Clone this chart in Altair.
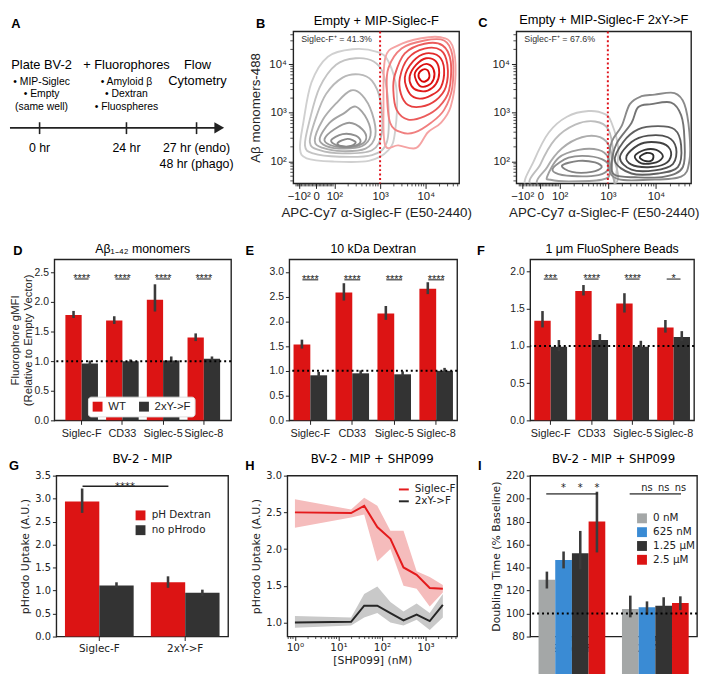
import math
import altair as alt
import pandas as pd

SANS = "Liberation Sans"
DJV = "DejaVu Sans"
RED = "#dc1414"
DARK = "#333333"
ERRC = "#3b3b3b"
INK = "#222222"
BLUE = "#3a8bd4"
LGRAY = "#a4a7a7"

# ---------------- Panel A (schematic timeline) ----------------
a_head = ["Plate BV-2", "+ Fluorophores", "Flow", "Cytometry"]
a_head_pos = [32, 118, 190, 190]
a_head_row = [34, 34, 34, 50]
a_items = ["• MIP-Siglec", "• Empty", "(same well)", "• Amyloid β", "• Dextran", "• Fluospheres"]
a_items_pos = [32, 32, 32, 118, 118, 118]
a_items_row = [51, 63, 77, 51, 63, 77]
a_times = ["0 hr", "24 hr", "27 hr (endo)", "48 hr (phago)"]
a_times_pos = [30, 118, 189, 189]
a_times_row = [118, 118, 118, 134]
a_tick_pos = [30, 118, 189]

# ---------------- Panels B / C (flow contours, display units) ----------------
b_gray = [
    [(1.247, 2.265), (1.319, 2.795), (1.498, 3.623), (1.857, 4.152), (2.394, 4.305), (2.932, 4.252), (3.183, 4.053), (3.362, 3.457), (3.326, 2.596), (3.183, 2.232), (2.753, 2.013), (1.964, 2.0), (1.391, 2.066)],
    [(1.355, 2.331), (1.462, 2.861), (1.677, 3.523), (2.036, 3.987), (2.466, 4.119), (2.860, 4.053), (3.075, 3.788), (3.183, 3.126), (3.147, 2.397), (2.824, 2.132), (2.108, 2.099), (1.534, 2.166)],
    [(1.462, 2.397), (1.606, 2.927), (1.821, 3.391), (2.179, 3.722), (2.538, 3.788), (2.824, 3.656), (3.004, 3.258), (3.039, 2.596), (2.824, 2.232), (2.179, 2.166), (1.677, 2.232)],
    [(1.570, 2.430), (1.749, 2.861), (2.036, 3.192), (2.358, 3.457), (2.609, 3.358), (2.824, 2.993), (2.896, 2.530), (2.681, 2.265), (2.179, 2.212), (1.749, 2.278)],
    [(1.677, 2.464), (1.892, 2.795), (2.215, 2.993), (2.466, 3.126), (2.717, 2.861), (2.789, 2.530), (2.609, 2.318), (2.215, 2.265), (1.821, 2.318)],
    [(1.785, 2.464), (2.0, 2.662), (2.323, 2.795), (2.609, 2.662), (2.695, 2.464), (2.538, 2.331), (2.215, 2.291), (1.892, 2.344)],
    [(1.928, 2.430), (2.179, 2.563), (2.466, 2.530), (2.573, 2.411), (2.430, 2.318), (2.108, 2.318)],
    [(2.072, 2.384), (2.287, 2.464), (2.466, 2.397), (2.358, 2.318), (2.143, 2.318)],
]
b_red = [
    [(3.111, 4.119), (3.398, 4.384), (3.900, 4.530), (4.330, 4.550), (4.581, 4.384), (4.652, 3.788), (4.545, 3.126), (4.330, 2.795), (4.043, 2.596), (3.792, 2.278), (3.398, 2.331), (3.111, 2.331), (3.075, 3.126)],
    [(3.183, 3.921), (3.470, 4.318), (3.971, 4.483), (4.401, 4.483), (4.581, 4.185), (4.581, 3.523), (4.401, 3.060), (4.115, 2.795), (3.756, 2.596), (3.470, 2.596), (3.219, 2.795), (3.147, 3.457)],
    [(3.326, 3.788), (3.541, 4.219), (3.971, 4.417), (4.366, 4.384), (4.545, 4.053), (4.509, 3.457), (4.294, 3.126), (3.971, 2.927), (3.613, 2.861), (3.362, 3.060), (3.290, 3.457)],
    [(3.434, 3.722), (3.613, 4.119), (3.971, 4.318), (4.330, 4.285), (4.473, 3.987), (4.437, 3.523), (4.222, 3.258), (3.900, 3.126), (3.613, 3.159), (3.455, 3.391)],
    [(3.541, 3.722), (3.720, 4.053), (4.007, 4.219), (4.294, 4.152), (4.401, 3.887), (4.330, 3.523), (4.115, 3.358), (3.864, 3.291), (3.649, 3.391)],
    [(3.649, 3.755), (3.792, 3.987), (4.007, 4.119), (4.222, 4.053), (4.294, 3.821), (4.222, 3.589), (4.043, 3.457), (3.828, 3.457), (3.685, 3.556)],
    [(3.756, 3.788), (3.885, 3.954), (4.043, 4.0), (4.172, 3.887), (4.172, 3.689), (4.043, 3.556), (3.864, 3.556)],
    [(3.842, 3.788), (3.935, 3.887), (4.043, 3.868), (4.079, 3.735), (3.986, 3.642), (3.885, 3.669)],
]
c_gray = [
    [(1.292, 1.495), (1.464, 2.013), (1.773, 2.595), (2.151, 2.919), (2.598, 3.036), (2.942, 2.971), (3.079, 2.790), (3.216, 2.272), (3.148, 1.625), (3.010, 1.430), (1.979, 1.430)],
    [(1.464, 1.495), (1.601, 1.948), (1.911, 2.466), (2.323, 2.757), (2.735, 2.822), (3.010, 2.660), (3.113, 2.142), (3.079, 1.495)],
    [(1.601, 1.495), (1.739, 1.883), (2.048, 2.272), (2.460, 2.498), (2.838, 2.498), (3.045, 2.272), (3.079, 1.819), (3.010, 1.430)],
    [(1.739, 1.689), (1.979, 2.078), (2.392, 2.239), (2.804, 2.239), (3.010, 2.078), (3.045, 1.754), (2.873, 1.625), (2.186, 1.592), (1.808, 1.625)],
    [(1.876, 1.883), (2.186, 2.078), (2.598, 2.110), (2.942, 2.013), (3.010, 1.851), (2.804, 1.722), (2.254, 1.702), (1.911, 1.767)],
    [(2.048, 1.916), (2.392, 2.013), (2.735, 1.981), (2.873, 1.883), (2.667, 1.786), (2.254, 1.786)],
]
c_dark = [
    [(3.010, 1.883), (3.079, 2.401), (3.285, 2.725), (3.457, 3.178), (3.698, 3.340), (3.973, 3.372), (4.385, 3.405), (4.591, 3.178), (4.694, 2.595), (4.694, 2.013), (4.522, 1.689), (3.835, 1.625), (3.216, 1.638)],
    [(3.079, 1.948), (3.182, 2.369), (3.491, 2.790), (3.629, 3.113), (3.904, 3.178), (4.316, 3.210), (4.522, 2.951), (4.591, 2.466), (4.557, 1.883), (4.179, 1.689), (3.560, 1.676), (3.148, 1.722)],
    [(3.148, 2.013), (3.320, 2.401), (3.629, 2.660), (4.041, 2.725), (4.385, 2.660), (4.522, 2.337), (4.454, 1.883), (4.041, 1.754), (3.491, 1.754)],
    [(3.251, 2.078), (3.491, 2.401), (3.835, 2.531), (4.247, 2.498), (4.419, 2.272), (4.351, 1.948), (3.973, 1.819), (3.491, 1.832)],
    [(3.388, 2.110), (3.629, 2.337), (3.904, 2.401), (4.213, 2.337), (4.316, 2.142), (4.179, 1.948), (3.835, 1.883), (3.491, 1.935)],
    [(3.560, 2.110), (3.766, 2.239), (4.007, 2.239), (4.144, 2.110), (4.007, 1.981), (3.698, 1.961)],
    [(3.663, 2.091), (3.801, 2.175), (3.938, 2.142), (3.918, 2.026), (3.766, 2.013)],
]
b_gray_cols = ["#d0d0d0", "#c4c4c4", "#b9b9b9", "#aeaeae", "#a3a3a3", "#999999", "#8f8f8f", "#888888"]
b_red_cols = ["#f5a3a3", "#f07f7f", "#eb5c5c", "#e74040", "#e32a2a", "#e01b1b", "#dc1010", "#d60808"]
c_gray_cols = ["#cccccc", "#bdbdbd", "#adadad", "#9e9e9e", "#8f8f8f", "#828282"]
c_dark_cols = ["#8a8a8a", "#747474", "#606060", "#4f4f4f", "#424242", "#363636", "#2c2c2c"]

# ---------------- Panels D / E / F ----------------
siglecs = ["Siglec-F", "CD33", "Siglec-5", "Siglec-8"]
variants = ["WT", "2xY->F"]

d_wt = [1.78, 1.69, 2.04, 1.40]
d_wt_lo = [1.73, 1.63, 1.84, 1.34]
d_wt_hi = [1.85, 1.76, 2.30, 1.47]
d_mut = [0.96, 1.00, 1.01, 1.04]
d_mut_lo = [0.93, 0.98, 0.95, 0.99]
d_mut_hi = [1.01, 1.03, 1.08, 1.08]
d_sig = ["****", "****", "****", "****"]

e_wt = [1.53, 2.58, 2.16, 2.66]
e_wt_lo = [1.45, 2.42, 2.03, 2.55]
e_wt_hi = [1.63, 2.77, 2.31, 2.79]
e_mut = [0.91, 0.95, 0.93, 1.00]
e_mut_lo = [0.87, 0.91, 0.89, 0.96]
e_mut_hi = [0.98, 1.01, 0.99, 1.06]
e_sig = ["****", "****", "****", "****"]

f_wt = [1.34, 1.74, 1.57, 1.25]
f_wt_lo = [1.25, 1.68, 1.45, 1.18]
f_wt_hi = [1.47, 1.82, 1.71, 1.35]
f_mut = [0.99, 1.08, 0.99, 1.12]
f_mut_lo = [0.93, 1.02, 0.95, 1.07]
f_mut_hi = [1.08, 1.16, 1.07, 1.20]
f_sig = ["***", "****", "****", "*"]

# ---------------- Panel G ----------------
g_cats = ["Siglec-F", "2xY->F"]
g_hues = ["pH Dextran", "no pHrodo"]
g_ph = [2.94, 1.18]
g_ph_lo = [2.69, 1.06]
g_ph_hi = [3.22, 1.31]
g_no = [1.11, 0.95]
g_no_lo = [1.06, 0.88]
g_no_hi = [1.18, 1.02]
g_sig_level = 3.27

# ---------------- Panel H ----------------
h_conc = [1, 19.5, 39, 78, 156, 312, 625, 1250, 2500]
h_sf = [2.50, 2.49, 2.59, 2.30, 2.14, 1.75, 1.65, 1.47, 1.46]
h_sf_lo = [2.29, 2.43, 2.47, 1.83, 2.00, 1.50, 1.46, 1.22, 1.41]
h_sf_hi = [2.68, 2.54, 2.70, 2.59, 2.25, 2.25, 1.70, 1.62, 1.51]
h_mut = [1.00, 1.01, 1.23, 1.23, 1.13, 1.03, 1.11, 1.02, 1.24]
h_mut_lo = [0.93, 0.96, 1.07, 1.13, 1.00, 0.96, 1.04, 0.90, 1.07]
h_mut_hi = [1.09, 1.07, 1.39, 1.49, 1.28, 1.15, 1.26, 1.13, 1.39]
h_groups = ["Siglec-F", "2xY->F"]

# ---------------- Panel I ----------------
i_doses = ["0 nM", "625 nM", "1.25 μM", "2.5 μM"]
i_sf = [129.5, 146.5, 152.4, 180.2]
i_sf_lo = [121.8, 139.3, 138.5, 153.2]
i_sf_hi = [136.5, 154.0, 171.9, 206.0]
i_mut = [103.9, 105.5, 106.9, 109.2]
i_mut_lo = [96.7, 99.0, 100.3, 103.0]
i_mut_hi = [115.6, 110.6, 114.2, 115.0]
i_sig_level = 204.1
i_marks_sf = ["", "*", "*", "*"]
i_marks_mut = ["", "ns", "ns", "ns"]


# ======================= helpers =======================
def frame():
    return alt.ViewBackground(stroke=INK, strokeWidth=1.4)


def spacer(w, h, ltr=None, ldx=0, ldy=0, room=None):
    """Invisible gap view; optionally carries the panel letter of the panel to its right."""
    layers = [alt.Chart(pd.DataFrame({"z": [0]})).mark_point(opacity=0, size=1).encode(
        x=alt.value(w), y=alt.value(h / 2))]
    if ltr is not None:
        layers.append(alt.Chart(pd.DataFrame({"s": [ltr]})).mark_text(
            font=SANS, fontSize=13, fontWeight="bold", align="center", baseline="middle", color="black"
        ).encode(text="s:N", x=alt.value(w + ldx), y=alt.value(ldy)))
    if room is not None:
        layers.append(alt.Chart(pd.DataFrame({"z": [0]})).mark_point(opacity=0, size=1).encode(
            x=alt.value(w), y=alt.value(-room)))
    return alt.layer(*layers).properties(width=w, height=h)


def ptitle(text, font, size, offset):
    return alt.TitleParams(text=text, font=font, fontSize=size, fontWeight="normal", offset=offset,
                           anchor="middle", color="black", frame="group")


def grouped_df(cats, hues, vals, los, his):
    rows = []
    for h, v, lo, hi in zip(hues, vals, los, his):
        for c, a, b, d in zip(cats, v, lo, hi):
            rows.append({"cat": c, "hue": h, "val": a, "lo": b, "hi": d})
    return pd.DataFrame(rows)


RESOLVE = dict(x="independent", y="independent", color="independent", xOffset="independent",
               fill="independent", stroke="independent")


def row(parts, gaps, h, letters, room=None):
    items = []
    for k, (g, p, (ch, dx, dy)) in enumerate(zip(gaps, parts, letters)):
        items += [spacer(g, h, ch, dx, dy, room if k == 0 else None), p]
    return alt.HConcatChart(hconcat=items, spacing=0, bounds="flush").resolve_scale(**RESOLVE)


# ======================= Panel A =======================
A_W, ROW1_H, ROW_H = 220, 154, 163
ax_id = alt.Scale(domain=[0, A_W], range=[0, A_W])
ay_id = alt.Scale(domain=[0, ROW1_H], range=[0, ROW1_H])
AX = lambda f: alt.X(f, scale=ax_id, axis=None)
AY = lambda f: alt.Y(f, scale=ay_id, axis=None)

a_head_df = pd.DataFrame({"t": a_head, "px": a_head_pos, "py": a_head_row})
a_items_df = pd.DataFrame({"t": a_items, "px": a_items_pos, "py": a_items_row})
a_times_df = pd.DataFrame({"t": a_times, "px": a_times_pos, "py": a_times_row})
a_ticks_df = pd.DataFrame({"px": a_tick_pos, "y0": [92] * 3, "y1": [104] * 3})
a_line_df = pd.DataFrame({"px": [0], "px2": [208], "py": [97.7]})
a_arrow_df = pd.DataFrame({"px": [212], "py": [97.7]})

panel_a = alt.layer(
    alt.Chart(a_line_df).mark_rule(color=INK, strokeWidth=2).encode(x=AX("px:Q"), x2="px2:Q", y=AY("py:Q")),
    alt.Chart(a_ticks_df).mark_rule(color=INK, strokeWidth=1.6).encode(x=AX("px:Q"), y=AY("y0:Q"), y2="y1:Q"),
    alt.Chart(a_arrow_df).mark_point(shape="triangle-right", filled=True, size=130, color=INK, opacity=1).encode(
        x=AX("px:Q"), y=AY("py:Q")),
    alt.Chart(a_head_df).mark_text(font=SANS, fontSize=13, align="center", baseline="middle", color="black").encode(
        x=AX("px:Q"), y=AY("py:Q"), text="t:N"),
    alt.Chart(a_items_df).mark_text(font=SANS, fontSize=10.5, align="center", baseline="middle", color="black").encode(
        x=AX("px:Q"), y=AY("py:Q"), text="t:N"),
    alt.Chart(a_times_df).mark_text(font=SANS, fontSize=12.5, align="center", baseline="middle", color="black").encode(
        x=AX("px:Q"), y=AY("py:Q"), text="t:N"),
).properties(width=A_W, height=ROW1_H)


# ======================= Panels B / C =======================
x_minor_t = [math.log10(k * 10 ** d) for d in (2, 3) for k in range(2, 10)] + \
            [math.log10(k * 1e4) for k in range(2, 6)] + [1.16 + 0.03 * i for i in range(28)]
y_minor_t = [math.log10(k * 10 ** d) for d in (1, 2, 3, 4) for k in range(2, 10)]
y_minor_t = [v for v in y_minor_t if 1.56 <= v <= 4.66]


def flow_panel(groups, cols, title, pct, w, ytitle, toff):
    rows = []
    keys = []
    for gi, (name, rings) in enumerate(groups):
        for ri, pts in enumerate(rings):
            key = f"{name}{ri}"
            keys.append(key)
            for i, (t, ly) in enumerate(pts):
                rows.append({"ring": key, "i": i, "t": t, "ly": ly})
    df = pd.DataFrame(rows)
    xs = alt.Scale(domain=[1.1, 4.73], nice=False, zero=False)
    ys = alt.Scale(domain=[1.55, 4.67], nice=False, zero=False)
    xaxis = alt.Axis(values=[1.22, 1.6, 2, 3, 4],
                     labelExpr="datum.value < 1.45 ? '\u221210\u00b2' : datum.value < 1.8 ? '0' : datum.value < 2.5 ? '10\u00b2' : datum.value < 3.5 ? '10\u00b3' : '10\u2074'",
                     title="APC-Cy7 \u03b1-Siglec-F (E50-2440)", labelFont=SANS, labelFontSize=11.5,
                     titleFont=SANS, titleFontSize=13.5, tickSize=5, labelPadding=2, titlePadding=4,
                     labelFlush=False, labelOverlap=False, grid=False, domain=False,
                     tickColor=INK, labelColor=INK, titleColor=INK, titleFontWeight="normal")
    yaxis = alt.Axis(values=[2, 3, 4],
                     labelExpr="datum.value < 2.5 ? '10\u00b2' : datum.value < 3.5 ? '10\u00b3' : '10\u2074'",
                     title=ytitle, labelFont=SANS, labelFontSize=11.5, titleFont=SANS, titleFontSize=13.5,
                     tickSize=5, labelPadding=2, titlePadding=6, grid=False, domain=False,
                     tickColor=INK, labelColor=INK, titleColor=INK, titleFontWeight="normal")
    X = alt.X("t:Q", scale=xs, axis=xaxis)
    Y = alt.Y("ly:Q", scale=ys, axis=yaxis)
    contours = alt.Chart(df).mark_line(interpolate="cardinal-closed", strokeWidth=1.9, clip=True).encode(
        x=X, y=Y, color=alt.Color("ring:N", scale=alt.Scale(domain=keys, range=cols), legend=None),
        order="i:Q")
    xm = alt.Chart(pd.DataFrame({"t": x_minor_t})).mark_rule(color=INK, strokeWidth=0.8).encode(
        x=X, y=alt.value(ROW1_H), y2=alt.value(ROW1_H + 3))
    ym = alt.Chart(pd.DataFrame({"ly": y_minor_t})).mark_rule(color=INK, strokeWidth=0.8).encode(
        y=Y, x=alt.value(0), x2=alt.value(-3))
    gate = alt.Chart(pd.DataFrame({"t": [3.0]})).mark_rule(color="#e0141c", strokeDash=[2, 2.5], strokeWidth=2).encode(x=X)
    lab = alt.Chart(pd.DataFrame({"s": [pct]})).mark_text(font=SANS, fontSize=9, align="left", baseline="middle",
                                                          color="#333").encode(
        text="s:N", x=alt.value(8), y=alt.value(8))
    return alt.layer(contours, xm, ym, gate, lab).properties(
        width=w, height=ROW1_H, title=ptitle(title, SANS, 13, toff), view=frame())


panel_b = flow_panel([("g", b_gray), ("r", b_red)], b_gray_cols + b_red_cols, "Empty + MIP-Siglec-F",
                     "Siglec-F\u207a  = 41.3%", 168, "A\u03b2 monomers-488", 3)
panel_c = flow_panel([("g", c_gray), ("d", c_dark)], c_gray_cols + c_dark_cols, "Empty + MIP-Siglec-F 2xY->F",
                     "Siglec-F\u207a  = 67.6%", 177, None, 4)


# ======================= bar panels =======================
def bar_panel(df, cats, hues, colors, ymax, yvals, yfmt, ytitle, w, h, font, lab_fs, x_fs, title, title_fs,
              toff, po, legend, ref_level, sig_df, sig_tick_size, sig_font_fs, extra=None,
              title_pad=4, title_fs_y=None):
    xsc = alt.Scale(domain=cats, paddingInner=0.2, paddingOuter=po)
    xax = alt.Axis(title=None, labelAngle=0, labelFont=font, labelFontSize=x_fs, tickSize=4, labelPadding=3,
                   grid=False, domain=False, tickColor=INK, labelColor=INK)
    X = alt.X("cat:N", scale=xsc, axis=xax, sort=cats)
    XO = alt.XOffset("hue:N", scale=alt.Scale(domain=hues, paddingInner=0, paddingOuter=0))
    ysc = alt.Scale(domain=[yvals[0], ymax], nice=False, zero=False)
    yax = alt.Axis(values=yvals, format=yfmt, title=ytitle, labelFont=font, labelFontSize=lab_fs,
                   titleFont=font, titleFontSize=title_fs_y or (lab_fs + 1), titleFontWeight="normal",
                   tickSize=4, labelPadding=2, titlePadding=title_pad, grid=False, domain=False,
                   tickColor=INK, labelColor=INK, titleColor=INK, titleLineHeight=13)
    Y = lambda f: alt.Y(f, scale=ysc, axis=yax)
    bars = alt.Chart(df).mark_bar().encode(
        x=X, xOffset=XO, y=Y("val:Q"),
        color=alt.Color("hue:N", scale=alt.Scale(domain=hues, range=colors), legend=legend))
    err = alt.Chart(df).mark_rule(strokeWidth=2.6, color=ERRC).encode(x=X, xOffset=XO, y=Y("lo:Q"), y2="hi:Q")
    layers = [bars, err]
    if ref_level is not None:
        layers.append(alt.Chart(pd.DataFrame({"val": [ref_level]})).mark_rule(
            color="black", strokeDash=[2, 3], strokeWidth=2).encode(y=Y("val:Q")))
    if sig_df is not None:
        layers.append(alt.Chart(sig_df).mark_tick(orient="horizontal", size=sig_tick_size, thickness=1.5,
                                                  color=INK).encode(x=X, y=Y("val:Q")))
        layers.append(alt.Chart(sig_df).mark_text(font=font, fontSize=sig_font_fs, baseline="alphabetic", dy=3,
                                                  color=INK).encode(x=X, y=Y("val:Q"), text="s:N"))
    if extra is not None:
        layers.extend(extra(X, XO, Y))
    return alt.layer(*layers).properties(width=w, height=h, title=ptitle(title, font, title_fs, toff), view=frame())


ticks_25 = [0.0, 0.5, 1.0, 1.5, 2.0, 2.5]

d_df = grouped_df(siglecs, variants, [d_wt, d_mut], [d_wt_lo, d_mut_lo], [d_wt_hi, d_mut_hi])
e_df = grouped_df(siglecs, variants, [e_wt, e_mut], [e_wt_lo, e_mut_lo], [e_wt_hi, e_mut_hi])
f_df = grouped_df(siglecs, variants, [f_wt, f_mut], [f_wt_lo, f_mut_lo], [f_wt_hi, f_mut_hi])

d_leg = alt.Legend(orient="none", legendX=34, legendY=139, direction="horizontal", title=None,
                   symbolType="square", symbolSize=100, symbolStrokeWidth=0, labelFont=SANS, labelFontSize=11.5,
                   fillColor="white", strokeColor="#dddddd", cornerRadius=3, padding=4, columnPadding=12,
                   labelOffset=5, labelColor=INK)

panel_d = bar_panel(d_df, siglecs, variants, [RED, DARK], 2.72, ticks_25, ".1f",
                    ["Fluorophore gMFI", "(Relative to Empty Vector)"], 179, ROW_H, SANS, 10.5, 11,
                    "A\u03b2\u2081\u208b\u2084\u2082 monomers", 12.5, 4, 0.27, d_leg, 1.0,
                    pd.DataFrame({"cat": siglecs, "val": [2.39] * 4, "s": d_sig}), 14, 11, title_pad=1,
                    title_fs_y=11.5)
panel_e = bar_panel(e_df, siglecs, variants, [RED, DARK], 3.25, [0.0, 0.5, 1.0, 1.5, 2.0, 2.5, 3.0], ".1f",
                    None, 170, ROW_H, SANS, 10.5, 11, "10 kDa Dextran", 12.5, 4, 0.1, None, 1.0,
                    pd.DataFrame({"cat": siglecs, "val": [2.84] * 4, "s": e_sig}), 16, 11)
panel_f = bar_panel(f_df, siglecs, variants, [RED, DARK], 2.164, [0.0, 0.5, 1.0, 1.5, 2.0], ".1f",
                    None, 166, ROW_H, SANS, 10.5, 11, "1 \u03bcm FluoSphere Beads", 12.5, 4, 0.1, None, 1.0,
                    pd.DataFrame({"cat": siglecs, "val": [1.90] * 4, "s": f_sig}), 14, 11)

# ---- G ----
g_df = grouped_df(g_cats, g_hues, [g_ph, g_no], [g_ph_lo, g_no_lo], [g_ph_hi, g_no_hi])
g_leg = alt.Legend(orient="none", legendX=80, legendY=35, direction="vertical", title=None,
                   symbolType="square", symbolSize=100, symbolStrokeWidth=0, labelFont=DJV, labelFontSize=10.5,
                   rowPadding=4, labelOffset=6, labelColor=INK)


def g_extra(X, XO, Y):
    sig = pd.DataFrame({"cat": [g_cats[0]], "cat2": [g_cats[1]], "val": [g_sig_level], "s": ["****"]})
    return [
        alt.Chart(sig).mark_rule(strokeWidth=1.6, color=INK, xOffset=-17, x2Offset=-17).encode(
            x=X, x2="cat2:N", y=Y("val:Q")),
        alt.Chart(sig).mark_text(font=DJV, fontSize=10, baseline="alphabetic", dy=4, dx=26, color=INK).encode(
            x=X, y=Y("val:Q"), text="s:N"),
    ]


panel_g = bar_panel(g_df, g_cats, g_hues, [RED, DARK], 3.5, [0.0, 0.5, 1.0, 1.5, 2.0, 2.5, 3.0, 3.5], ".1f",
                    "pHrodo Uptake (A.U.)", 174, ROW_H, DJV, 10, 10.5, "BV-2 - MIP", 12, 5, 0.1, g_leg,
                    None, None, 0, 0, extra=g_extra)

# ---- I ----
i_df = grouped_df(g_cats, i_doses, [[i_sf[k], i_mut[k]] for k in range(4)],
                  [[i_sf_lo[k], i_mut_lo[k]] for k in range(4)], [[i_sf_hi[k], i_mut_hi[k]] for k in range(4)])
i_leg = alt.Legend(orient="none", legendX=108, legendY=38, direction="vertical", title=None,
                   symbolType="square", symbolSize=100, symbolStrokeWidth=0, labelFont=DJV, labelFontSize=10.5,
                   rowPadding=3, labelOffset=6, labelColor=INK)


def i_extra(X, XO, Y):
    lines = pd.DataFrame({"cat": g_cats, "val": [i_sig_level] * 2})
    marks = pd.DataFrame({"cat": [g_cats[0]] * 4 + [g_cats[1]] * 4, "hue": i_doses * 2,
                          "val": [i_sig_level] * 8, "s": i_marks_sf + i_marks_mut})
    return [
        alt.Chart(lines).mark_tick(orient="horizontal", size=52, thickness=1.6, color=INK).encode(x=X, y=Y("val:Q")),
        alt.Chart(marks).mark_text(font=DJV, fontSize=10, baseline="alphabetic", dy=-3, color=INK).encode(
            x=X, xOffset=XO, y=Y("val:Q"), text="s:N"),
    ]


panel_i = bar_panel(i_df, g_cats, i_doses, [LGRAY, BLUE, DARK, RED], 220, [80, 100, 120, 140, 160, 180, 200, 220],
                    "d", "Doubling Time (% Baseline)", 169, ROW_H, DJV, 10, 10.5, "BV-2 - MIP + SHP099", 12, 5,
                    0.1, i_leg, 100, None, 0, 0, extra=i_extra)

# ======================= Panel H =======================
h_rows = []
for grp, m, lo, hi in [(h_groups[0], h_sf, h_sf_lo, h_sf_hi), (h_groups[1], h_mut, h_mut_lo, h_mut_hi)]:
    for c, a, b, d in zip(h_conc, m, lo, hi):
        h_rows.append({"conc": c, "grp": grp, "val": a, "lo": b, "hi": d})
h_df = pd.DataFrame(h_rows)
h_minor = [k * 10 ** d for d in (-1, 0, 1, 2, 3) for k in range(2, 10)]
h_minor = [v for v in h_minor if 0.68 <= v <= 5300]
H_LINE_COLS = ["#e41a1c", "#262626"]

hxs = alt.Scale(type="log", domain=[0.67, 5330], nice=False)
hys = alt.Scale(domain=[0.81, 3.0], nice=False, zero=False)
hxax = alt.Axis(values=[1, 10, 100, 1000],
                labelExpr="datum.value < 5 ? '10\u2070' : datum.value < 50 ? '10\u00b9' : datum.value < 500 ? '10\u00b2' : '10\u00b3'",
                title="[SHP099] (nM)", labelFont=DJV, labelFontSize=10.5, titleFont=DJV, titleFontSize=11,
                titleFontWeight="normal", tickSize=4, labelPadding=2, titlePadding=2, labelFlush=False,
                grid=False, domain=False, tickColor=INK, labelColor=INK, titleColor=INK)
hyax = alt.Axis(values=[1.0, 1.5, 2.0, 2.5, 3.0], format=".1f", title="pHrodo Uptake (A.U.)", labelFont=DJV,
                labelFontSize=10, titleFont=DJV, titleFontSize=11, titleFontWeight="normal", tickSize=4,
                labelPadding=2, titlePadding=4, grid=False, domain=False, tickColor=INK, labelColor=INK,
                titleColor=INK)
HX = alt.X("conc:Q", scale=hxs, axis=hxax)
HY = lambda f: alt.Y(f, scale=hys, axis=hyax)
h_band = alt.Chart(h_df).mark_area(opacity=1).encode(
    x=HX, y=HY("lo:Q"), y2="hi:Q",
    fill=alt.Fill("grp:N", scale=alt.Scale(domain=h_groups, range=["#f5bcbc", "#c9c9c9"]), legend=None))
h_line = alt.Chart(h_df).mark_line(strokeWidth=2).encode(
    x=HX, y=HY("val:Q"),
    stroke=alt.Stroke("grp:N", scale=alt.Scale(domain=h_groups, range=H_LINE_COLS), legend=None))
# legend key: short line samples with labels
h_key = []
for k, (g, col) in enumerate(zip(h_groups, H_LINE_COLS)):
    kdf = pd.DataFrame({"s": [g]})
    h_key.append(alt.Chart(kdf).mark_rule(strokeWidth=2, color=col).encode(
        x=alt.value(113), x2=alt.value(123), y=alt.value(14 + 12 * k)))
    h_key.append(alt.Chart(kdf).mark_text(font=DJV, fontSize=10.5, align="left", baseline="middle",
                                          color=INK).encode(x=alt.value(129), y=alt.value(14 + 12 * k), text="s:N"))
h_mticks = alt.Chart(pd.DataFrame({"conc": h_minor})).mark_rule(color=INK, strokeWidth=0.8).encode(
    x=HX, y=alt.value(ROW_H), y2=alt.value(ROW_H + 2.5))
panel_h = alt.layer(h_band, h_line, h_mticks, *h_key).properties(
    width=172, height=ROW_H, title=ptitle("BV-2 - MIP + SHP099", DJV, 12, 5), view=frame())

# ======================= layout =======================
row1 = row([panel_a, panel_b, panel_c], [1, 67, 58], ROW1_H,
           [("A", 6, -7), ("B", -33, -7), ("C", -34, -8)])
row2 = row([panel_d, panel_e, panel_f], [46, 59, 74], ROW_H,
           [("D", -37, -9), ("E", -40, -9), ("F", -50, -9)], room=26)
row3 = row([panel_g, panel_h, panel_i], [48, 60, 74], ROW_H,
           [("G", -43, -10), ("H", -38, -10), ("I", -51, -10)])

chart = alt.VConcatChart(vconcat=[row1, row2, row3], spacing=13).resolve_scale(**RESOLVE).properties(
    padding={"left": 0, "top": 0, "right": 0, "bottom": 0}
).configure(
    font=SANS, view=alt.ViewConfig(stroke="transparent")
)

chart.save("out.html", embed_options={"renderer": "svg", "actions": False})
